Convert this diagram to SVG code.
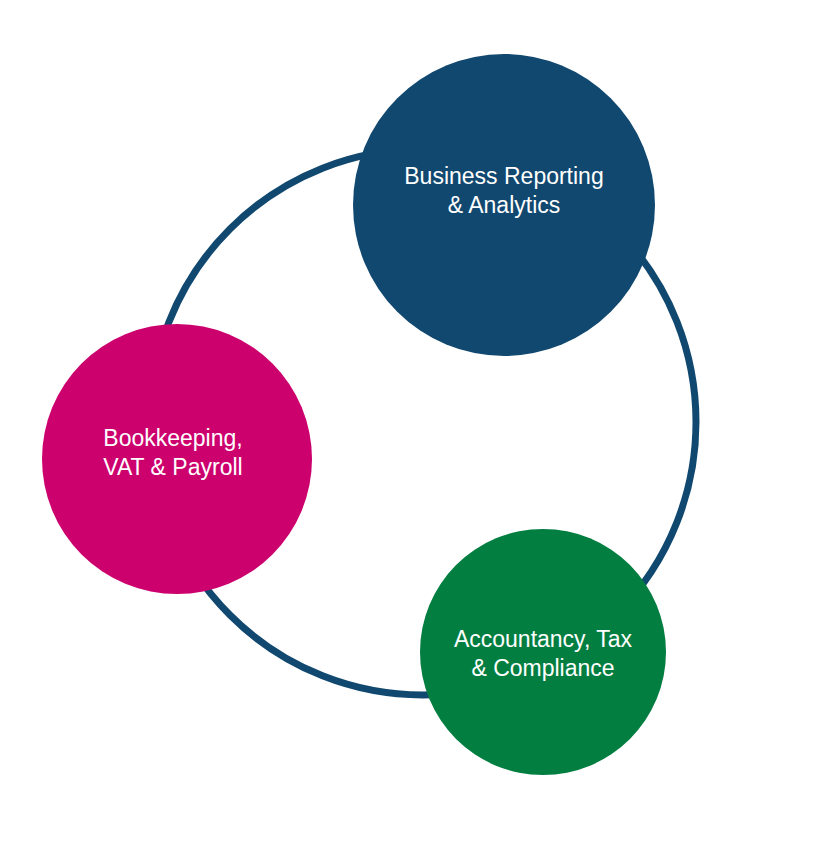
<svg xmlns="http://www.w3.org/2000/svg" width="840" height="844" viewBox="0 0 840 844">
<style>
.t{font-family:"Liberation Sans",Arial,sans-serif;font-size:23px;fill:#fff;text-anchor:middle}
</style>
<rect width="840" height="844" fill="#fff"/>
<g id="connectors">
<circle cx="423" cy="422" r="273" fill="none" stroke="#11486f" stroke-width="7"/>
</g>
<g id="business">
<circle cx="504" cy="205" r="151" fill="#11486f"/>
<text class="t" x="504" y="184">Business Reporting</text>
<text class="t" x="504" y="213">&amp; Analytics</text>
</g>
<g id="bookkeeping">
<circle cx="177" cy="459" r="135" fill="#cc016e"/>
<text class="t" x="173" y="446">Bookkeeping,</text>
<text class="t" x="173" y="475">VAT &amp; Payroll</text>
</g>
<g id="accountancy">
<circle cx="543" cy="652" r="123" fill="#037e41"/>
<text class="t" x="543" y="647">Accountancy, Tax</text>
<text class="t" x="543" y="676">&amp; Compliance</text>
</g>
</svg>
